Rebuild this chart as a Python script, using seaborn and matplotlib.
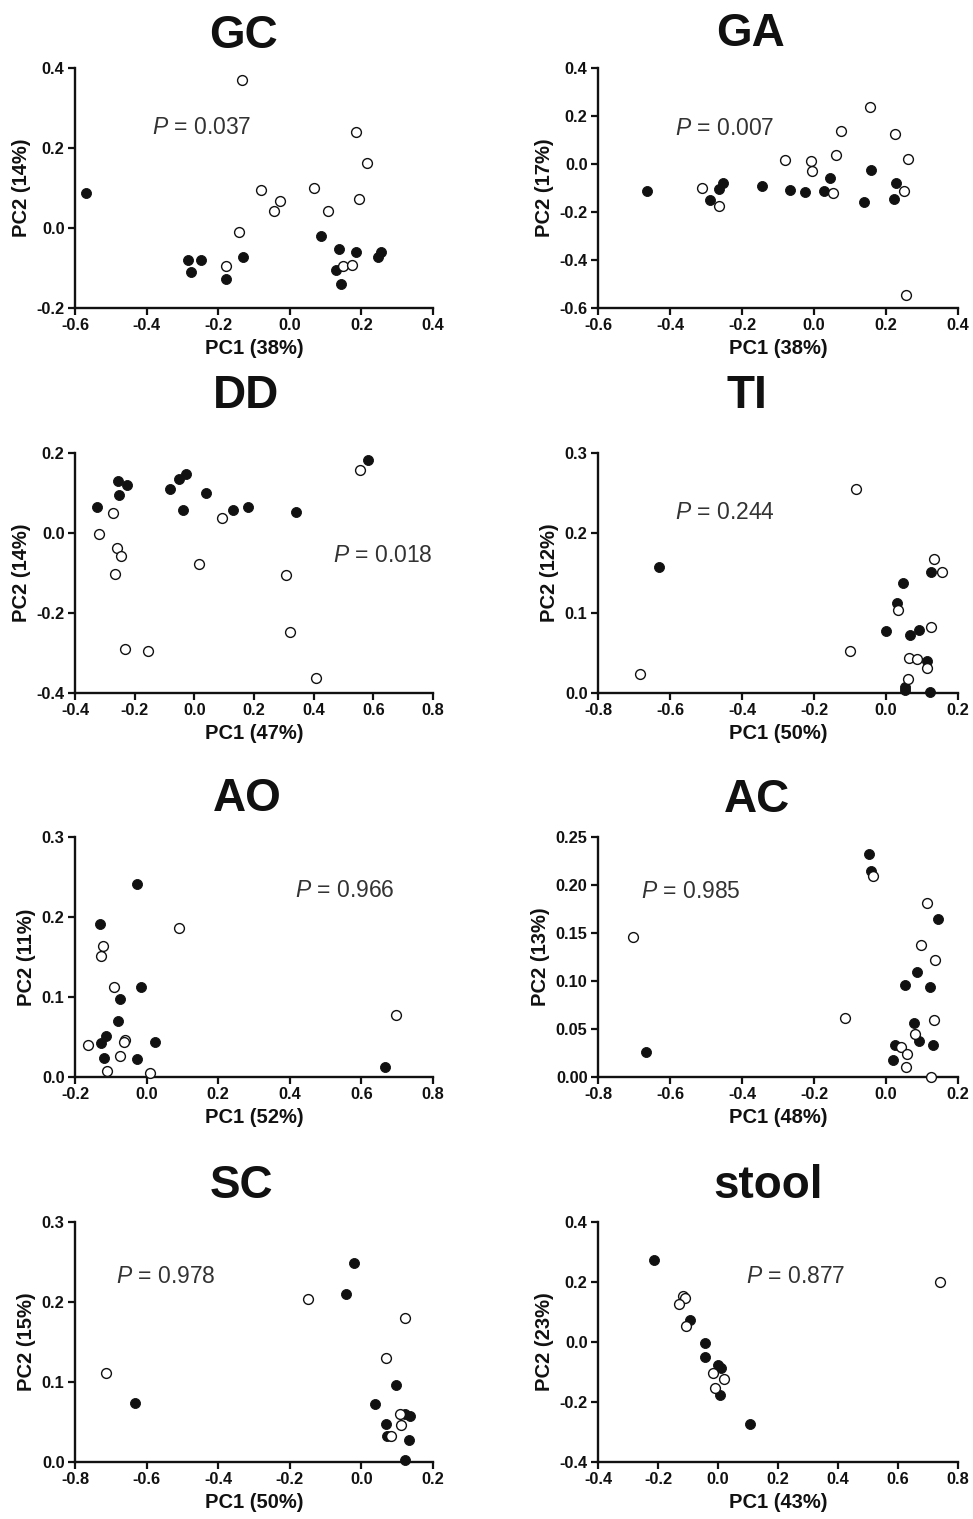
import numpy as np
import pandas as pd
import matplotlib
matplotlib.use("Agg")
import matplotlib.pyplot as plt
from matplotlib.ticker import FormatStrFormatter
import seaborn as sns

# ---------------- data ----------------
panel_names = ["GC", "GA", "DD", "TI", "AO", "AC", "SC", "stool"]
p_values = ["0.037", "0.007", "0.018", "0.244", "0.966", "0.985", "0.978", "0.877"]
x_labels = ["PC1 (38%)", "PC1 (38%)", "PC1 (47%)", "PC1 (50%)",
            "PC1 (52%)", "PC1 (48%)", "PC1 (50%)", "PC1 (43%)"]
y_labels = ["PC2 (14%)", "PC2 (17%)", "PC2 (14%)", "PC2 (12%)",
            "PC2 (11%)", "PC2 (13%)", "PC2 (15%)", "PC2 (23%)"]

x_ticks = [
    [-0.6, -0.4, -0.2, 0.0, 0.2, 0.4],
    [-0.6, -0.4, -0.2, 0.0, 0.2, 0.4],
    [-0.4, -0.2, 0.0, 0.2, 0.4, 0.6, 0.8],
    [-0.8, -0.6, -0.4, -0.2, 0.0, 0.2],
    [-0.2, 0.0, 0.2, 0.4, 0.6, 0.8],
    [-0.8, -0.6, -0.4, -0.2, 0.0, 0.2],
    [-0.8, -0.6, -0.4, -0.2, 0.0, 0.2],
    [-0.4, -0.2, 0.0, 0.2, 0.4, 0.6, 0.8],
]
y_ticks = [
    [-0.2, 0.0, 0.2, 0.4],
    [-0.6, -0.4, -0.2, 0.0, 0.2, 0.4],
    [-0.4, -0.2, 0.0, 0.2],
    [0.0, 0.1, 0.2, 0.3],
    [0.0, 0.1, 0.2, 0.3],
    [0.00, 0.05, 0.10, 0.15, 0.20, 0.25],
    [0.0, 0.1, 0.2, 0.3],
    [-0.4, -0.2, 0.0, 0.2, 0.4],
]
y_formats = ["%.1f", "%.1f", "%.1f", "%.1f", "%.1f", "%.2f", "%.1f", "%.1f"]

# GC
gc_filled_x = [-0.568, -0.285, -0.276, -0.248, -0.179, -0.130, 0.087, 0.138, 0.129, 0.144, 0.184, 0.245, 0.254]
gc_filled_y = [0.088, -0.081, -0.110, -0.081, -0.127, -0.072, -0.019, -0.052, -0.104, -0.140, -0.061, -0.073, -0.061]
gc_open_x = [-0.134, 0.186, 0.216, -0.081, -0.027, -0.044, 0.067, 0.107, 0.194, -0.142, -0.179, 0.150, 0.175]
gc_open_y = [0.371, 0.239, 0.162, 0.094, 0.068, 0.042, 0.100, 0.042, 0.072, -0.011, -0.096, -0.096, -0.093]

# GA
ga_filled_x = [-0.463, -0.290, -0.264, -0.253, -0.144, -0.066, -0.024, 0.028, 0.044, 0.159, 0.138, 0.227, 0.222]
ga_filled_y = [-0.113, -0.148, -0.106, -0.081, -0.091, -0.109, -0.117, -0.112, -0.057, -0.023, -0.158, -0.078, -0.144]
ga_open_x = [-0.310, -0.264, -0.081, -0.007, -0.005, 0.062, 0.076, 0.155, 0.224, 0.261, 0.250, 0.053, 0.255]
ga_open_y = [-0.099, -0.175, 0.016, 0.012, -0.028, 0.037, 0.139, 0.239, 0.125, 0.019, -0.113, -0.120, -0.546]

# DD
dd_filled_x = [-0.326, -0.257, -0.251, -0.226, -0.081, -0.053, -0.028, -0.039, 0.039, 0.131, 0.181, 0.340, 0.583]
dd_filled_y = [0.065, 0.131, 0.094, 0.121, 0.111, 0.135, 0.148, 0.058, 0.100, 0.058, 0.066, 0.052, 0.183]
dd_open_x = [-0.273, -0.321, -0.260, -0.245, -0.267, -0.232, -0.154, 0.014, 0.094, 0.307, 0.320, 0.409, 0.554]
dd_open_y = [0.050, -0.003, -0.038, -0.057, -0.103, -0.291, -0.295, -0.078, 0.038, -0.105, -0.247, -0.362, 0.157]

# TI
ti_filled_x = [-0.631, 0.047, 0.031, 0.126, 0.001, 0.066, 0.091, 0.115, 0.052, 0.052, 0.121]
ti_filled_y = [0.158, 0.138, 0.112, 0.151, 0.078, 0.072, 0.079, 0.040, 0.008, 0.004, 0.001]
ti_open_x = [-0.682, -0.082, 0.133, 0.156, 0.033, 0.124, -0.101, 0.064, 0.085, 0.113, 0.061]
ti_open_y = [0.024, 0.255, 0.167, 0.151, 0.104, 0.082, 0.052, 0.044, 0.042, 0.031, 0.018]

# AO
ao_filled_x = [-0.027, -0.131, -0.015, -0.074, -0.080, -0.113, -0.128, -0.120, -0.027, 0.024, 0.665]
ao_filled_y = [0.241, 0.191, 0.112, 0.097, 0.070, 0.051, 0.043, 0.024, 0.022, 0.044, 0.012]
ao_open_x = [0.091, -0.122, -0.128, -0.092, -0.061, -0.064, -0.164, -0.074, -0.111, 0.010, 0.698]
ao_open_y = [0.186, 0.164, 0.151, 0.113, 0.046, 0.044, 0.040, 0.026, 0.008, 0.005, 0.078]

# AC
ac_filled_x = [-0.047, -0.043, 0.144, 0.086, 0.052, 0.121, 0.077, 0.092, 0.131, 0.024, 0.019, -0.668]
ac_filled_y = [0.232, 0.215, 0.165, 0.109, 0.096, 0.094, 0.056, 0.038, 0.033, 0.033, 0.018, 0.026]
ac_open_x = [-0.036, 0.115, 0.098, 0.135, 0.132, 0.080, 0.043, 0.057, 0.055, 0.124, -0.115, -0.703]
ac_open_y = [0.209, 0.181, 0.138, 0.122, 0.059, 0.045, 0.031, 0.024, 0.010, 0.000, 0.061, 0.146]

# SC
sc_filled_x = [-0.021, -0.043, -0.632, 0.098, 0.039, 0.068, 0.072, 0.121, 0.135, 0.133, 0.121]
sc_filled_y = [0.249, 0.210, 0.074, 0.096, 0.073, 0.047, 0.032, 0.060, 0.058, 0.028, 0.002]
sc_open_x = [-0.713, -0.148, 0.121, 0.070, 0.107, 0.112, 0.084]
sc_open_y = [0.111, 0.204, 0.180, 0.130, 0.060, 0.046, 0.032]

# stool
st_filled_x = [-0.213, -0.094, -0.042, -0.044, 0.000, 0.011, 0.008, 0.106]
st_filled_y = [0.274, 0.072, -0.003, -0.050, -0.076, -0.087, -0.178, -0.272]
st_open_x = [0.739, -0.117, -0.111, -0.130, -0.106, -0.017, 0.020, -0.011]
st_open_y = [0.200, 0.152, 0.147, 0.128, 0.052, -0.102, -0.124, -0.152]

filled = [(gc_filled_x, gc_filled_y), (ga_filled_x, ga_filled_y), (dd_filled_x, dd_filled_y),
          (ti_filled_x, ti_filled_y), (ao_filled_x, ao_filled_y), (ac_filled_x, ac_filled_y),
          (sc_filled_x, sc_filled_y), (st_filled_x, st_filled_y)]
opened = [(gc_open_x, gc_open_y), (ga_open_x, ga_open_y), (dd_open_x, dd_open_y),
          (ti_open_x, ti_open_y), (ao_open_x, ao_open_y), (ac_open_x, ac_open_y),
          (sc_open_x, sc_open_y), (st_open_x, st_open_y)]

# ---------------- layout (pixels) ----------------
W, H = 973, 1519
col_lr = [(75, 433), (598, 958)]
row_tb = [(68, 308), (453, 693), (837, 1077), (1222, 1462)]
title_pos = [(243, 48), (750, 46), (246, 408), (747, 408),
             (247, 811), (757, 812), (241, 1198), (768, 1198)]
p_pos = [(0.215, 0.725), (0.214, 0.72), (0.72, 0.546), (0.214, 0.725),
         (0.615, 0.75), (0.119, 0.746), (0.115, 0.746), (0.411, 0.746)]

sns.set_theme(style="ticks")
plt.rcParams["font.family"] = ["Liberation Sans", "DejaVu Sans"]
plt.rcParams["axes.unicode_minus"] = False
plt.rcParams["mathtext.fontset"] = "custom"
plt.rcParams["mathtext.it"] = "Liberation Sans:italic"
plt.rcParams["mathtext.rm"] = "Liberation Sans"

fig = plt.figure(figsize=(W / 100, H / 100), dpi=100)
fig.patch.set_facecolor("white")

for i in range(8):
    r, c = divmod(i, 2)
    l, rr = col_lr[c]
    t, b = row_tb[r]
    ax = fig.add_axes([l / W, 1 - b / H, (rr - l) / W, (b - t) / H])
    ax.set_facecolor("white")

    fx, fy = filled[i]
    ox, oy = opened[i]
    df_f = pd.DataFrame({"x": fx, "y": fy})
    df_o = pd.DataFrame({"x": ox, "y": oy})
    sns.scatterplot(data=df_f, x="x", y="y", ax=ax, s=52, color="#111111",
                    edgecolor="#111111", linewidth=0.6, clip_on=False, zorder=3)
    sns.scatterplot(data=df_o, x="x", y="y", ax=ax, s=50, facecolor="white",
                    edgecolor="#111111", linewidth=1.0, clip_on=False, zorder=4)

    xt = x_ticks[i]
    yt = y_ticks[i]
    ax.set_xlim(xt[0], xt[-1])
    ax.set_ylim(yt[0], yt[-1])
    ax.set_xticks(xt)
    ax.set_yticks(yt)
    ax.xaxis.set_major_formatter(FormatStrFormatter("%.1f"))
    ax.yaxis.set_major_formatter(FormatStrFormatter(y_formats[i]))
    for sp in ["top", "right"]:
        ax.spines[sp].set_visible(False)
    for sp in ["left", "bottom"]:
        ax.spines[sp].set_linewidth(1.7)
        ax.spines[sp].set_color("#111111")
    ax.tick_params(axis="both", direction="out", length=5, width=1.6,
                   color="#111111", labelsize=11.8, pad=2.5, labelcolor="#111111")
    for lab in ax.get_xticklabels() + ax.get_yticklabels():
        lab.set_fontweight("bold")
    ax.set_xlabel(x_labels[i], fontsize=14.5, fontweight="bold", labelpad=4, color="#111111")
    ax.set_ylabel(y_labels[i], fontsize=14.5, fontweight="bold", labelpad=4, color="#111111")

    px, py = p_pos[i]
    ax.text(px, py, r"$\it{P}$" + " = " + p_values[i], transform=ax.transAxes,
            fontsize=16.5, color="#333333", ha="left", va="baseline")

    tx, ty = title_pos[i]
    fig.text(tx / W, 1 - ty / H, panel_names[i], fontsize=33, fontweight="bold",
             ha="center", va="baseline", color="#111111")

fig.savefig("out.png", dpi=100, facecolor="white")
